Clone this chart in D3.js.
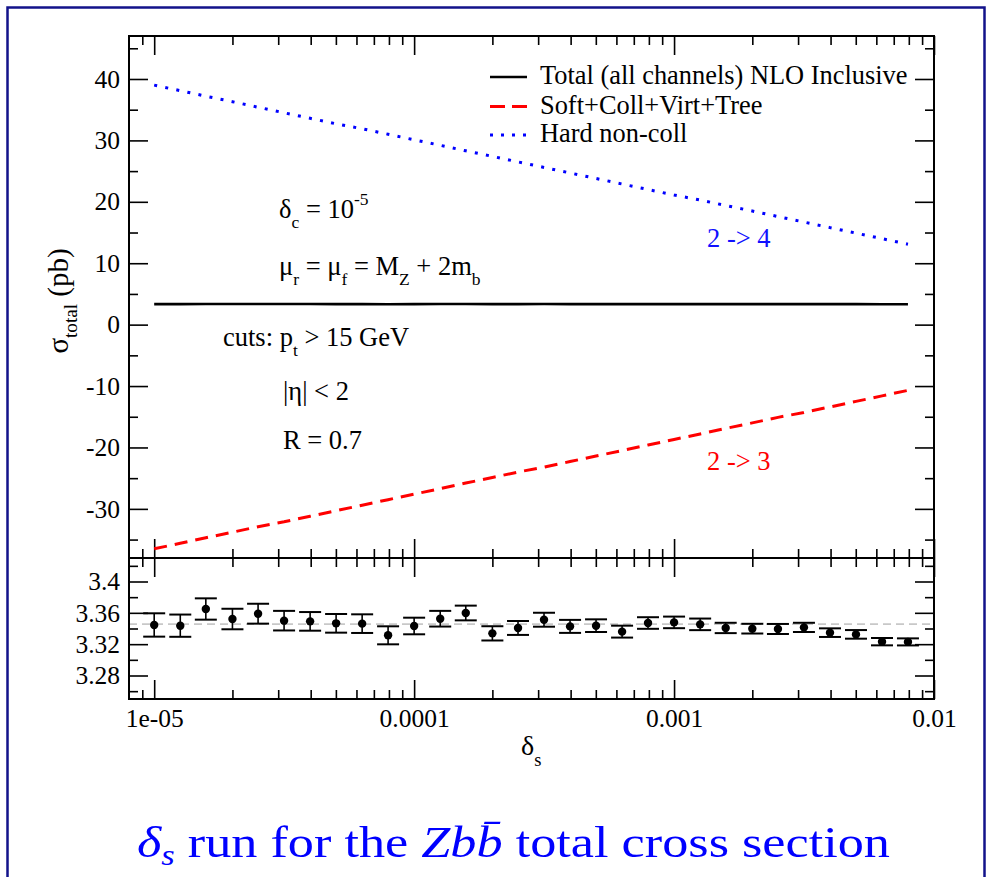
<!DOCTYPE html>
<html>
<head>
<meta charset="UTF-8">
<script src="https://cdn.jsdelivr.net/npm/d3@7"></script>
<style>
  body { margin: 0; background: #fff; }
  text { font-family: "Liberation Serif", "Times New Roman", serif; }
</style>
</head>
<body>
<div id="chart"></div>
<script>
// delta_s values of the run (log spaced, 10 per decade)
var deltaS = [1.0e-5, 1.26e-5, 1.58e-5, 2.0e-5, 2.51e-5, 3.16e-5, 3.98e-5, 5.01e-5, 6.31e-5, 7.94e-5,
              1.0e-4, 1.26e-4, 1.58e-4, 2.0e-4, 2.51e-4, 3.16e-4, 3.98e-4, 5.01e-4, 6.31e-4, 7.94e-4,
              1.0e-3, 1.26e-3, 1.58e-3, 2.0e-3, 2.51e-3, 3.16e-3, 3.98e-3, 5.01e-3, 6.31e-3, 7.94e-3]
var sigmaTotal = [3.3445, 3.3436, 3.3649, 3.3521, 3.3589, 3.3500, 3.3491, 3.3466, 3.3462, 3.3313,
                  3.3432, 3.3525, 3.3598, 3.3338, 3.3407, 3.3512, 3.3427, 3.3436, 3.3360, 3.3470,
                  3.3478, 3.3453, 3.3407, 3.3398, 3.3394, 3.3414, 3.3347, 3.3325, 3.3232, 3.3229]
var sigmaErr = [0.0149, 0.0142, 0.0136, 0.0131, 0.0127, 0.0125, 0.0119, 0.0119, 0.0119, 0.0115,
                0.0106, 0.0100, 0.0094, 0.0091, 0.0089, 0.0089, 0.0083, 0.0081, 0.0076, 0.0074,
                0.0074, 0.0074, 0.0066, 0.0062, 0.0064, 0.0059, 0.0055, 0.0055, 0.0047, 0.0045]
var softColl = [-36.5, -35.6, -34.7, -33.8, -32.9, -32.1, -31.2, -30.3, -29.4, -28.5,
                -27.6, -26.7, -25.8, -24.9, -24.0, -23.2, -22.3, -21.4, -20.5, -19.6,
                -18.7, -17.8, -16.9, -16.0, -15.1, -14.3, -13.4, -12.5, -11.6, -10.7]
var hardNonColl = [39.0, 38.1, 37.2, 36.3, 35.4, 34.5, 33.6, 32.7, 31.9, 31.0,
                   30.1, 29.2, 28.3, 27.4, 26.5, 25.6, 24.7, 23.8, 22.9, 22.0,
                   21.1, 20.3, 19.4, 18.5, 17.6, 16.7, 15.8, 14.9, 14.0, 13.1]
var sigmaAvg = 3.3456

var xMajor = [1e-5, 1e-4, 1e-3, 1e-2]
var xLabels = ["1e-05", "0.0001", "0.001", "0.01"]
var xMinor = [9e-6, 2e-5, 3e-5, 4e-5, 5e-5, 6e-5, 7e-5, 8e-5, 9e-5,
              2e-4, 3e-4, 4e-4, 5e-4, 6e-4, 7e-4, 8e-4, 9e-4,
              2e-3, 3e-3, 4e-3, 5e-3, 6e-3, 7e-3, 8e-3, 9e-3]
var yTopMajor = [-30, -20, -10, 0, 10, 20, 30, 40]
var yTopMinor = [-35, -25, -15, -5, 5, 15, 25, 35, 45]
var yBotMajor = [3.28, 3.32, 3.36, 3.40]
var yBotLabels = ["3.28", "3.32", "3.36", "3.4"]
var yBotMinor = [3.26, 3.30, 3.34, 3.38, 3.42]
var legendNames = ["Total (all channels) NLO Inclusive", "Soft+Coll+Virt+Tree", "Hard non-coll"]

var W = 987, H = 877
// panel edges (window.top is reserved, so p* names)
var pLeft = 129, pRight = 934, pTop = 36, pMid = 558, pBottom = 699

var svg = d3.select("#chart").append("svg")
    .attr("width", W)
    .attr("height", H)

// page frame
svg.append("rect")
    .attr("x", 7.5).attr("y", 7.5)
    .attr("width", 977).attr("height", 900)
    .attr("fill", "none")
    .attr("stroke", "#12128a")
    .attr("stroke-width", 2.5)

var x = d3.scaleLog().domain([8.0e-6, 0.01]).range([pLeft, pRight])
var yTop = d3.scaleLinear().domain([-38, 47]).range([pMid, pTop])
var yBot = d3.scaleLinear().domain([3.25, 3.43]).range([pBottom, pMid])

// tick helper: inward ticks, no labels
function ticks(axisFn, scale, values, size, tx, ty) {
    var g = svg.append("g")
        .attr("transform", "translate(" + tx + "," + ty + ")")
        .call(axisFn(scale).tickValues(values).tickSize(size).tickFormat(""))
    g.select(".domain").remove()
    g.selectAll("line").attr("stroke", "black").attr("stroke-width", 1.6)
}

// x ticks on all horizontal edges
ticks(d3.axisBottom, x, xMajor, 19, 0, pTop)
ticks(d3.axisBottom, x, xMinor, 9, 0, pTop)
ticks(d3.axisTop, x, xMajor, 19, 0, pMid)
ticks(d3.axisTop, x, xMinor, 9, 0, pMid)
ticks(d3.axisBottom, x, xMajor, 19, 0, pMid)
ticks(d3.axisBottom, x, xMinor, 9, 0, pMid)
ticks(d3.axisTop, x, xMajor, 19, 0, pBottom)
ticks(d3.axisTop, x, xMinor, 9, 0, pBottom)

// y ticks
ticks(d3.axisRight, yTop, yTopMajor, 19, pLeft, 0)
ticks(d3.axisRight, yTop, yTopMinor, 9, pLeft, 0)
ticks(d3.axisLeft, yTop, yTopMajor, 19, pRight, 0)
ticks(d3.axisLeft, yTop, yTopMinor, 9, pRight, 0)
ticks(d3.axisRight, yBot, yBotMajor, 19, pLeft, 0)
ticks(d3.axisRight, yBot, yBotMinor, 9, pLeft, 0)
ticks(d3.axisLeft, yBot, yBotMajor, 19, pRight, 0)
ticks(d3.axisLeft, yBot, yBotMinor, 9, pRight, 0)

// tick labels
var xl = svg.append("g")
    .attr("transform", "translate(0," + pBottom + ")")
    .call(d3.axisBottom(x).tickValues(xMajor).tickSize(0).tickPadding(10)
        .tickFormat(function(d, i) { return xLabels[i] }))
xl.select(".domain").remove()

// plain hyphen for negatives, like the original plot
var yl = svg.append("g")
    .attr("transform", "translate(" + pLeft + ",0)")
    .call(d3.axisLeft(yTop).tickValues(yTopMajor).tickSize(0).tickPadding(9)
        .tickFormat(function(d) { return String(d) }))
yl.select(".domain").remove()

var yl2 = svg.append("g")
    .attr("transform", "translate(" + pLeft + ",0)")
    .call(d3.axisLeft(yBot).tickValues(yBotMajor).tickSize(0).tickPadding(9)
        .tickFormat(function(d, i) { return yBotLabels[i] }))
yl2.select(".domain").remove()

svg.selectAll(".tick text")
    .style("font-family", "Liberation Serif")
    .style("font-size", "25.5px")
    .attr("fill", "black")

// rich text with sub / superscripts
function rich(g, px, py, parts, size, color, subDrop) {
    var drop = subDrop || 0.36
    var t = g.append("text").attr("x", px).attr("y", py)
        .style("font-size", size + "px").attr("fill", color || "black")
    var shift = 0
    parts.forEach(function(p) {
        var want = p[1] === "sub" ? size * drop : (p[1] === "sup" ? -size * 0.5 : 0)
        var ts = t.append("tspan").attr("dy", want - shift)
            .style("font-size", (p[1] === "sub" || p[1] === "sup" ? size * 0.66 : size) + "px")
            .text(p[0])
        if (p[2]) ts.style("font-style", "italic")
        shift = want
    })
    return t
}

// top panel lines
var line = function(vals) {
    return d3.line()
        .x(function(d, i) { return x(deltaS[i]) })
        .y(function(d) { return yTop(d) })(vals)
}
svg.append("path").attr("d", line(sigmaTotal))
    .attr("fill", "none").attr("stroke", "black").attr("stroke-width", 2.6)
svg.append("path").attr("d", line(softColl))
    .attr("fill", "none").attr("stroke", "#ff0000").attr("stroke-width", 3)
    .attr("stroke-dasharray", "13,8")
svg.append("path").attr("d", line(hardNonColl))
    .attr("fill", "none").attr("stroke", "#0000ff").attr("stroke-width", 3)
    .attr("stroke-dasharray", "3,8.3")

// legend
var legColors = ["black", "#ff0000", "#0000ff"]
var legDash = [null, "15,7", "3,8"]
var legY = [77, 106.5, 135]
legendNames.forEach(function(name, i) {
    svg.append("line")
        .attr("x1", 490).attr("x2", 527)
        .attr("y1", legY[i]).attr("y2", legY[i])
        .attr("stroke", legColors[i])
        .attr("stroke-width", i == 0 ? 2.6 : 3)
        .attr("stroke-dasharray", legDash[i])
    svg.append("text")
        .attr("x", 540).attr("y", legY[i] + 7)
        .style("font-size", "26.4px")
        .text(name)
})

// annotations
var aSize = 26.5
rich(svg, 279, 218, [["δ"], ["c", "sub"], [" = 10"], ["-5", "sup"]], aSize)
rich(svg, 279, 275, [["μ"], ["r", "sub"], [" = μ"], ["f", "sub"], [" = M"], ["Z", "sub"], [" + 2m"], ["b", "sub"]], aSize)
rich(svg, 223, 346, [["cuts: p"], ["t", "sub"], [" > 15 GeV"]], aSize)
rich(svg, 283, 400, [["|η| < 2"]], aSize)
rich(svg, 283, 449, [["R = 0.7"]], aSize)
rich(svg, 707, 247, [["2 -> 4"]], aSize, "#1010ff")
rich(svg, 707, 470, [["2 -> 3"]], aSize, "#ff0000")

// bottom panel: average line, error bars, points
svg.append("line")
    .attr("x1", pLeft).attr("x2", pRight)
    .attr("y1", yBot(sigmaAvg)).attr("y2", yBot(sigmaAvg))
    .attr("stroke", "#c8c8c8").attr("stroke-width", 1.6)
    .attr("stroke-dasharray", "8,5")

var bars = svg.append("g").selectAll("g")
    .data(sigmaTotal)
    .enter().append("g")
bars.append("line")
    .attr("x1", function(d, i) { return x(deltaS[i]) })
    .attr("x2", function(d, i) { return x(deltaS[i]) })
    .attr("y1", function(d, i) { return yBot(d - sigmaErr[i]) })
    .attr("y2", function(d, i) { return yBot(d + sigmaErr[i]) })
    .attr("stroke", "black").attr("stroke-width", 1.6)
bars.append("line")
    .attr("x1", function(d, i) { return x(deltaS[i]) - 11 })
    .attr("x2", function(d, i) { return x(deltaS[i]) + 11 })
    .attr("y1", function(d, i) { return yBot(d + sigmaErr[i]) })
    .attr("y2", function(d, i) { return yBot(d + sigmaErr[i]) })
    .attr("stroke", "black").attr("stroke-width", 2)
bars.append("line")
    .attr("x1", function(d, i) { return x(deltaS[i]) - 11 })
    .attr("x2", function(d, i) { return x(deltaS[i]) + 11 })
    .attr("y1", function(d, i) { return yBot(d - sigmaErr[i]) })
    .attr("y2", function(d, i) { return yBot(d - sigmaErr[i]) })
    .attr("stroke", "black").attr("stroke-width", 2)
bars.append("circle")
    .attr("cx", function(d, i) { return x(deltaS[i]) })
    .attr("cy", function(d) { return yBot(d) })
    .attr("r", 4.2)
    .attr("fill", "black")

// panel frames
svg.append("rect").attr("x", pLeft).attr("y", pTop)
    .attr("width", pRight - pLeft).attr("height", pMid - pTop)
    .attr("fill", "none").attr("stroke", "black").attr("stroke-width", 2)
svg.append("rect").attr("x", pLeft).attr("y", pMid)
    .attr("width", pRight - pLeft).attr("height", pBottom - pMid)
    .attr("fill", "none").attr("stroke", "black").attr("stroke-width", 2)

// axis titles
rich(svg, 0, 0, [["σ"], ["total", "sub"], [" (pb)"]], 29, "black", 0.3)
    .attr("text-anchor", "middle")
    .attr("transform", "translate(68,301) rotate(-90)")
rich(svg, 521, 755, [["δ"], ["s", "sub"]], 28, "black", 0.4)

// slide title
rich(svg, 137, 857, [["δ", null, true], ["s", "sub", true], [" run for the "], ["Z", null, true], ["bb\u0304", null, true],
    [" total cross section"]], 45, "#0000ff", 0.18)
    .attr("textLength", 753)
    .attr("lengthAdjust", "spacingAndGlyphs")
</script>
</body>
</html>
